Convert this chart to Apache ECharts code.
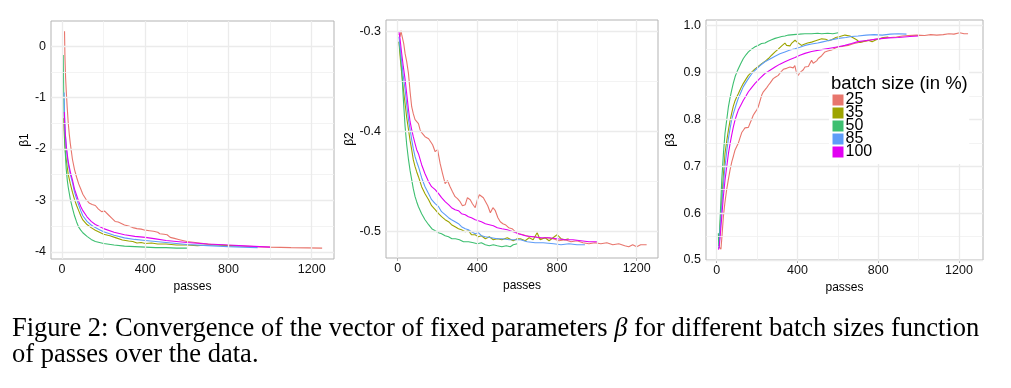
<!DOCTYPE html>
<html><head><meta charset="utf-8">
<script src="https://cdn.jsdelivr.net/npm/echarts@6/dist/echarts.min.js"></script>
<style>html,body{margin:0;padding:0;background:#fff;}#c{width:1011px;height:388px;}</style>
</head><body><div id="c"></div>
<script>
// ---------- data ----------
const batchNames = ['25', '35', '50', '85', '100'];
const batchColors = ['#E8766D', '#9DA400', '#3DBF70', '#5E9CF8', '#E200F2'];

const xTicks = [0, 400, 800, 1200];
const xMinor = [200, 600, 1000];
const y1Ticks = [0, -1, -2, -3, -4];
const y1Minor = [-0.5, -1.5, -2.5, -3.5];
const y2Ticks = [-0.3, -0.4, -0.5];
const y2Minor = [-0.35, -0.45];
const y3Ticks = [0.5, 0.6, 0.7, 0.8, 0.9, 1.0];
const y3Minor = [0.55, 0.65, 0.75, 0.85, 0.95];

// beta1
const b1_25 = [[12,0.29],[14,-0.2],[17,-0.6],[20,-0.85],[25,-1.2],[30,-1.5],[35,-1.72],[40,-1.9],[50,-2.2],[60,-2.4],[70,-2.55],[80,-2.68],[90,-2.78],[100,-2.88],[115,-2.98],[130,-3.05],[145,-3.08],[160,-3.1],[175,-3.17],[190,-3.22],[205,-3.21],[220,-3.27],[240,-3.35],[255,-3.41],[270,-3.42],[285,-3.45],[300,-3.48],[320,-3.5],[340,-3.53],[360,-3.55],[380,-3.56],[400,-3.58],[420,-3.59],[440,-3.6],[460,-3.62],[470,-3.65],[490,-3.66],[505,-3.67],[520,-3.72],[540,-3.74],[560,-3.76],[580,-3.78],[600,-3.8],[640,-3.82],[680,-3.84],[720,-3.86],[760,-3.87],[800,-3.88],[860,-3.89],[920,-3.9],[1000,-3.91],[1100,-3.92],[1180,-3.925],[1250,-3.93]];
const b1_35 = [[8,-1.4],[10,-1.65],[13,-1.9],[16,-2.05],[20,-2.2],[25,-2.35],[30,-2.5],[40,-2.68],[50,-2.84],[60,-2.98],[70,-3.1],[80,-3.2],[90,-3.3],[100,-3.38],[120,-3.47],[140,-3.53],[160,-3.58],[180,-3.62],[200,-3.66],[230,-3.69],[260,-3.73],[290,-3.77],[320,-3.79],[340,-3.8],[360,-3.83],[380,-3.82],[400,-3.84],[430,-3.83],[460,-3.85],[500,-3.85],[550,-3.87],[600,-3.87],[650,-3.88],[700,-3.87],[750,-3.87],[800,-3.88],[850,-3.88]];
const b1_50 = [[6,-0.17],[8,-0.9],[10,-1.35],[13,-1.8],[16,-2.1],[20,-2.38],[25,-2.6],[30,-2.75],[40,-2.98],[50,-3.15],[60,-3.3],[70,-3.42],[80,-3.52],[90,-3.58],[100,-3.63],[120,-3.7],[140,-3.76],[160,-3.8],[180,-3.82],[200,-3.84],[250,-3.87],[300,-3.89],[350,-3.9],[400,-3.91],[450,-3.92],[500,-3.92],[550,-3.93],[600,-3.93]];
const b1_85 = [[10,-0.9],[12,-1.3],[15,-1.65],[20,-1.95],[25,-2.15],[30,-2.3],[40,-2.5],[50,-2.65],[60,-2.84],[70,-2.97],[80,-3.09],[90,-3.2],[100,-3.3],[120,-3.41],[140,-3.48],[160,-3.53],[180,-3.57],[200,-3.61],[250,-3.68],[300,-3.73],[350,-3.76],[400,-3.78],[450,-3.8],[500,-3.82],[550,-3.84],[600,-3.86],[700,-3.88],[800,-3.9],[870,-3.91],[940,-3.92]];
const b1_100 = [[11,-1.28],[13,-1.5],[16,-1.72],[20,-1.93],[25,-2.1],[30,-2.25],[40,-2.45],[50,-2.6],[60,-2.78],[70,-2.9],[80,-3.02],[90,-3.12],[100,-3.2],[120,-3.32],[140,-3.41],[160,-3.47],[180,-3.51],[200,-3.55],[250,-3.62],[300,-3.67],[350,-3.7],[400,-3.72],[450,-3.75],[500,-3.78],[550,-3.8],[600,-3.82],[700,-3.85],[800,-3.87],[900,-3.89],[1000,-3.91]];

// beta2
const b2_25 = [[6,-0.302],[12,-0.305],[16,-0.299],[20,-0.303],[25,-0.302],[30,-0.312],[37,-0.322],[45,-0.33],[54,-0.342],[62,-0.36],[70,-0.375],[78,-0.382],[87,-0.388],[95,-0.386],[104,-0.392],[112,-0.398],[120,-0.401],[128,-0.4],[137,-0.405],[145,-0.404],[155,-0.407],[165,-0.408],[175,-0.413],[188,-0.42],[200,-0.418],[213,-0.432],[225,-0.442],[238,-0.452],[250,-0.449],[263,-0.455],[275,-0.46],[288,-0.465],[300,-0.467],[313,-0.47],[325,-0.474],[339,-0.473],[350,-0.466],[364,-0.468],[375,-0.472],[389,-0.476],[400,-0.468],[410,-0.463],[420,-0.461],[430,-0.466],[440,-0.468],[452,-0.474],[465,-0.481],[478,-0.476],[490,-0.479],[503,-0.486],[515,-0.49],[528,-0.492],[540,-0.493],[557,-0.496],[574,-0.497],[590,-0.5],[607,-0.502],[630,-0.503],[660,-0.505],[690,-0.505],[720,-0.507],[750,-0.506],[780,-0.507],[810,-0.509],[840,-0.508],[870,-0.51],[900,-0.509],[930,-0.511],[960,-0.512],[990,-0.511],[1020,-0.512],[1050,-0.511],[1080,-0.513],[1110,-0.512],[1140,-0.514],[1160,-0.515],[1180,-0.513],[1200,-0.515],[1220,-0.513],[1250,-0.513]];
const b2_35 = [[6,-0.31],[12,-0.325],[20,-0.342],[28,-0.357],[37,-0.372],[45,-0.386],[54,-0.398],[62,-0.409],[70,-0.418],[78,-0.428],[87,-0.435],[95,-0.44],[104,-0.445],[120,-0.455],[137,-0.462],[155,-0.468],[170,-0.474],[188,-0.478],[205,-0.482],[220,-0.485],[238,-0.488],[255,-0.49],[270,-0.493],[288,-0.495],[305,-0.497],[320,-0.498],[339,-0.5],[355,-0.499],[370,-0.503],[389,-0.503],[405,-0.505],[420,-0.504],[440,-0.507],[460,-0.505],[480,-0.508],[500,-0.507],[523,-0.508],[550,-0.506],[580,-0.509],[600,-0.507],[616,-0.507],[640,-0.509],[660,-0.506],[680,-0.508],[700,-0.501],[715,-0.508],[740,-0.506],[760,-0.509],[780,-0.506],[800,-0.503],[808,-0.501],[820,-0.507],[840,-0.508],[858,-0.507]];
const b2_50 = [[6,-0.31],[12,-0.32],[20,-0.338],[28,-0.367],[37,-0.395],[45,-0.413],[54,-0.428],[62,-0.439],[70,-0.448],[78,-0.457],[87,-0.465],[95,-0.47],[104,-0.475],[120,-0.482],[137,-0.488],[155,-0.493],[171,-0.497],[188,-0.499],[205,-0.501],[220,-0.502],[238,-0.504],[255,-0.505],[272,-0.507],[290,-0.507],[310,-0.508],[330,-0.51],[356,-0.51],[380,-0.511],[400,-0.512],[420,-0.511],[440,-0.513],[460,-0.514],[480,-0.513],[500,-0.514],[523,-0.515],[545,-0.514],[565,-0.515],[580,-0.513],[600,-0.512]];
const b2_85 = [[6,-0.305],[12,-0.315],[20,-0.33],[28,-0.345],[37,-0.358],[45,-0.373],[54,-0.388],[62,-0.398],[70,-0.408],[78,-0.417],[87,-0.425],[95,-0.43],[104,-0.435],[120,-0.446],[137,-0.455],[155,-0.462],[170,-0.468],[188,-0.472],[205,-0.475],[220,-0.48],[238,-0.483],[255,-0.486],[270,-0.488],[288,-0.49],[305,-0.492],[320,-0.495],[339,-0.497],[355,-0.498],[370,-0.5],[389,-0.502],[405,-0.501],[420,-0.504],[440,-0.505],[470,-0.506],[500,-0.507],[523,-0.507],[560,-0.508],[590,-0.508],[616,-0.508],[650,-0.51],[690,-0.511],[730,-0.511],[783,-0.512],[820,-0.513],[860,-0.512],[900,-0.513],[940,-0.513]];
const b2_100 = [[6,-0.3],[12,-0.308],[20,-0.322],[28,-0.335],[37,-0.348],[45,-0.362],[54,-0.378],[62,-0.39],[70,-0.398],[78,-0.405],[87,-0.412],[95,-0.418],[104,-0.422],[120,-0.433],[137,-0.442],[155,-0.45],[170,-0.455],[188,-0.458],[205,-0.462],[220,-0.466],[238,-0.47],[255,-0.473],[270,-0.476],[288,-0.478],[305,-0.479],[320,-0.482],[339,-0.483],[355,-0.485],[370,-0.486],[389,-0.488],[405,-0.489],[420,-0.49],[440,-0.492],[460,-0.493],[480,-0.494],[500,-0.496],[523,-0.497],[550,-0.498],[580,-0.5],[607,-0.502],[640,-0.504],[680,-0.505],[720,-0.506],[760,-0.506],[800,-0.507],[840,-0.508],[880,-0.508],[920,-0.509],[960,-0.51],[1000,-0.51]];

// beta3
const b3_25 = [[11,0.528],[16,0.525],[21,0.523],[26,0.55],[33,0.592],[40,0.62],[49,0.649],[57,0.67],[66,0.692],[75,0.71],[83,0.722],[91,0.735],[99,0.742],[107,0.749],[115,0.76],[124,0.772],[132,0.777],[140,0.782],[148,0.779],[157,0.783],[165,0.792],[173,0.8],[181,0.809],[190,0.815],[198,0.82],[206,0.827],[215,0.84],[223,0.852],[231,0.859],[240,0.862],[248,0.868],[256,0.873],[265,0.878],[272,0.882],[280,0.887],[290,0.89],[298,0.889],[305,0.894],[315,0.9],[322,0.904],[330,0.907],[338,0.905],[346,0.909],[355,0.906],[363,0.912],[370,0.909],[379,0.91],[387,0.915],[395,0.9],[404,0.894],[412,0.9],[420,0.904],[429,0.906],[437,0.912],[445,0.91],[454,0.913],[462,0.92],[470,0.926],[478,0.92],[487,0.919],[495,0.925],[503,0.93],[511,0.93],[520,0.936],[528,0.94],[536,0.944],[550,0.946],[569,0.948],[585,0.952],[602,0.955],[625,0.956],[651,0.958],[680,0.962],[710,0.965],[740,0.967],[770,0.97],[800,0.972],[830,0.974],[860,0.975],[890,0.976],[920,0.978],[950,0.979],[990,0.98],[1030,0.979],[1060,0.981],[1090,0.98],[1122,0.981],[1150,0.983],[1175,0.982],[1204,0.985],[1225,0.983],[1245,0.983]];
const b3_35 = [[11,0.53],[18,0.58],[25,0.628],[33,0.68],[41,0.727],[50,0.755],[58,0.777],[66,0.797],[74,0.813],[82,0.828],[91,0.84],[99,0.848],[107,0.855],[120,0.867],[132,0.877],[145,0.886],[157,0.894],[173,0.901],[190,0.908],[206,0.913],[223,0.919],[240,0.924],[256,0.93],[272,0.937],[289,0.944],[305,0.95],[322,0.957],[330,0.96],[338,0.963],[346,0.958],[355,0.955],[363,0.957],[372,0.963],[380,0.967],[388,0.969],[396,0.965],[404,0.963],[413,0.962],[420,0.958],[430,0.96],[437,0.962],[450,0.963],[470,0.965],[490,0.968],[505,0.97],[520,0.972],[540,0.971],[555,0.968],[569,0.97],[590,0.975],[610,0.977],[635,0.98],[660,0.978],[693,0.97],[710,0.964],[730,0.967],[750,0.969],[770,0.966],[790,0.97],[808,0.972],[825,0.975],[850,0.976]];
const b3_50 = [[8,0.557],[10,0.53],[14,0.56],[19,0.61],[25,0.67],[33,0.725],[41,0.77],[50,0.8],[58,0.827],[66,0.846],[74,0.862],[82,0.877],[91,0.891],[99,0.9],[107,0.908],[120,0.92],[132,0.93],[145,0.938],[157,0.944],[173,0.95],[190,0.955],[205,0.958],[222,0.962],[239,0.963],[255,0.967],[272,0.97],[289,0.973],[305,0.975],[322,0.977],[338,0.978],[355,0.98],[380,0.981],[410,0.982],[437,0.983],[470,0.983],[500,0.984],[520,0.983],[550,0.984],[575,0.983],[602,0.985]];
const b3_85 = [[9,0.525],[12,0.53],[18,0.57],[25,0.614],[33,0.66],[41,0.699],[50,0.733],[58,0.759],[66,0.78],[74,0.799],[82,0.812],[91,0.824],[99,0.835],[107,0.845],[120,0.858],[132,0.87],[145,0.879],[157,0.887],[173,0.897],[190,0.905],[215,0.915],[239,0.923],[264,0.929],[289,0.935],[313,0.94],[338,0.944],[363,0.948],[388,0.951],[412,0.954],[437,0.958],[470,0.961],[500,0.963],[520,0.965],[560,0.969],[602,0.973],[640,0.975],[668,0.977],[700,0.978],[740,0.98],[780,0.981],[820,0.98],[860,0.982],[900,0.983],[940,0.982]];
const b3_100 = [[9,0.522],[13,0.53],[18,0.555],[25,0.592],[33,0.635],[41,0.67],[50,0.7],[58,0.727],[66,0.748],[74,0.766],[82,0.783],[91,0.799],[99,0.81],[107,0.82],[120,0.831],[132,0.841],[145,0.85],[157,0.859],[173,0.868],[190,0.877],[215,0.888],[239,0.898],[264,0.905],[289,0.912],[313,0.918],[338,0.923],[363,0.928],[388,0.932],[412,0.937],[437,0.941],[470,0.945],[520,0.949],[560,0.952],[602,0.955],[635,0.958],[668,0.962],[700,0.966],[750,0.969],[800,0.972],[850,0.974],[900,0.975],[957,0.977],[1000,0.978]];

const panelData = [
  [b1_25, b1_35, b1_50, b1_85, b1_100],
  [b2_25, b2_35, b2_50, b2_85, b2_100],
  [b3_25, b3_35, b3_50, b3_85, b3_100]
];
const yNames = ['β1', 'β2', 'β3'];
const yTickSets = [y1Ticks, y2Ticks, y3Ticks];
const yMinorSets = [y1Minor, y2Minor, y3Minor];

// ---------- layout / style ----------
const FONT = '"Liberation Sans", Arial, sans-serif';
const grids = [
  {left: 51, top: 21, width: 283, height: 238},
  {left: 386, top: 20, width: 272, height: 238},
  {left: 706, top: 20, width: 277, height: 240}
];
const xRanges = [[-53, 1307], [-59, 1307], [-53, 1319]];
const yRanges = [[-4.141, 0.49], [-0.5263, -0.2883], [0.5, 1.0122]];
const yNameGaps = [20, 29, 29];
const yFormat = [v => String(v), v => v.toFixed(1), v => v.toFixed(1)];

const option = {
  animation: false,
  backgroundColor: '#fff',
  textStyle: {fontFamily: FONT},
  grid: grids.map(g => Object.assign({show: true, borderColor: '#b3b3b3', borderWidth: 1, backgroundColor: 'transparent', containLabel: false}, g)),
  xAxis: [], yAxis: [], series: [],
  title: [
    {text: 'batch size (in %)', left: 831, top: 74, padding: 0, z: 20,
     textStyle: {fontFamily: FONT, fontSize: 18.5, fontWeight: 'normal', color: '#000', lineHeight: 19}},
    {text: 'Figure 2: Convergence of the vector of fixed parameters {b|β} for different batch sizes function\nof passes over the data.',
     left: 12, top: 316, padding: 0,
     textStyle: {fontFamily: '"Liberation Serif", "Times New Roman", serif', fontSize: 26.5, fontWeight: 'normal', color: '#000', lineHeight: 26,
       rich: {b: {fontFamily: '"Liberation Serif", serif', fontStyle: 'italic', fontSize: 26.5, lineHeight: 26}}}}
  ],
  legend: {
    orient: 'vertical', left: 829, top: 70, padding: [22, 97, 4, 3.5],
    backgroundColor: '#fff', itemWidth: 11, itemHeight: 11, itemGap: -3, icon: 'rect',
    textStyle: {fontFamily: FONT, fontSize: 16, lineHeight: 13, color: '#000', padding: [0, 0, 0, -3]},
    data: batchNames, z: 10
  }
};

for (let i = 0; i < 3; i++) {
  option.xAxis.push({
    type: 'value', gridIndex: i, min: xRanges[i][0], max: xRanges[i][1],
    splitLine: {show: false}, axisLine: {show: false},
    axisTick: {show: true, length: 3, lineStyle: {color: '#b3b3b3'}, customValues: xTicks},
    axisLabel: {customValues: xTicks, margin: 4, fontSize: 12.5, color: '#111', fontFamily: FONT, formatter: v => String(v)},
    name: 'passes', nameLocation: 'middle', nameGap: 15,
    nameTextStyle: {fontSize: 12, color: '#000', fontFamily: FONT}
  });
  option.yAxis.push({
    type: 'value', gridIndex: i, min: yRanges[i][0], max: yRanges[i][1],
    splitLine: {show: false}, axisLine: {show: false},
    axisTick: {show: true, length: 3, lineStyle: {color: '#b3b3b3'}, customValues: yTickSets[i]},
    axisLabel: {customValues: yTickSets[i], margin: 5, fontSize: 12.5, color: '#111', fontFamily: FONT, formatter: yFormat[i]},
    name: yNames[i], nameLocation: 'middle', nameGap: yNameGaps[i],
    nameTextStyle: {fontSize: 12, color: '#000', fontFamily: FONT}
  });
  const major = {color: '#ebebeb', width: 1.3, type: 'solid'};
  const minor = {color: '#f0f0f0', width: 0.8, type: 'solid'};
  const ml = []
    .concat(xMinor.map(v => ({xAxis: v, lineStyle: minor})))
    .concat(yMinorSets[i].map(v => ({yAxis: v, lineStyle: minor})))
    .concat(xTicks.map(v => ({xAxis: v, lineStyle: major})))
    .concat(yTickSets[i].map(v => ({yAxis: v, lineStyle: major})));
  option.series.push({
    type: 'line', xAxisIndex: i, yAxisIndex: i, data: [], z: 1, silent: true,
    markLine: {silent: true, symbol: ['none', 'none'], label: {show: false}, animation: false, data: ml}
  });
  for (let k = 0; k < 5; k++) {
    option.series.push({
      type: 'line', name: batchNames[k], xAxisIndex: i, yAxisIndex: i,
      data: panelData[i][k], showSymbol: false, symbol: 'none', z: 3,
      lineStyle: {width: 1.1, color: batchColors[k]}, itemStyle: {color: batchColors[k]}
    });
  }
}

const chart = echarts.init(document.getElementById('c'), null, {renderer: 'canvas'});
chart.setOption(option);
</script></body></html>
